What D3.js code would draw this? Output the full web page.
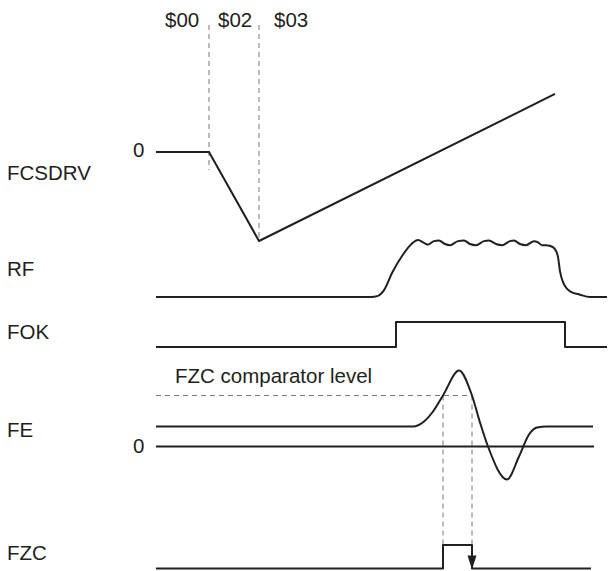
<!DOCTYPE html>
<html><head><meta charset="utf-8">
<script src="https://cdn.jsdelivr.net/npm/d3@7"></script>
<style>body{margin:0;background:#fff}text{font-family:"Liberation Sans",Arial,sans-serif;fill:#231f20}</style>
</head><body><svg id="c" width="608" height="571"></svg>
<script>
// time axis in arbitrary units (0..451)
const signalNames = ["FCSDRV","RF","FOK","FE","FZC"];
const stepLabels = ["$00","$02","$03"];
const stepTimes = [53, 103, 145];
// FCSDRV: [t, level]  (0 = reference, -1 = bottom)
const fcsdrv = [[0,0],[53,0],[103,-1],[399,0.652]];
// RF envelope: [t, level] (0 = baseline, 1 = top)
const rf = [[0,0],[215,0],[222,0.02],[228,0.12],[236,0.42],[246,0.72],[256,0.94],[262,1.0],[268,0.95],[272,0.92],[278,0.98],[283,0.99],[289,0.93],[294,0.91],[302,0.98],[308,0.99],[314,0.93],[320,0.91],[328,0.98],[333,0.99],[340,0.93],[346,0.91],[354,0.98],[358,0.99],[364,0.93],[370,0.91],[378,0.98],[382,0.96],[386,0.91],[390,0.91],[395,0.89],[399,0.84],[402,0.7],[404,0.45],[407,0.26],[414,0.1],[424,0.04],[434,0],[451,0]];
// FOK: [t, level] (0 low, 1 high)
const fok = [[0,0],[240,0],[240,1],[409,1],[409,0],[451,0]];
// FE: [t, level] (0 = zero line, 1 = rest level)
const fe = [[0,1],[257,1],[268,1.25],[277,1.75],[287,2.55],[303,3.8],[316,2.55],[324,1.2],[332,0],[351,-1.65],[363,-0.5],[373,0.6],[381,0.95],[391,1],[437,1]];
const feZero = [[0,0],[438,0]];
const comparatorLevel = 2.55;
const crossTimes = [287, 316];
// FZC: [t, level]
const fzc = [[0,0],[287,0],[287,1],[316,1],[316,0],[435,0]];

const svg = d3.select("#c");
const x = d3.scaleLinear().domain([0,451]).range([156,607]);
const yF = d3.scaleLinear().domain([-1,0]).range([241,152]);
const yRF = d3.scaleLinear().domain([0,1]).range([297,240]);
const yOK = d3.scaleLinear().domain([0,1]).range([347,322]);
const yFE = d3.scaleLinear().domain([0,1]).range([446.5,426.5]);
const yZC = d3.scaleLinear().domain([0,1]).range([568.5,545]);

const sig = (data, y, curve, w) => svg.append("path").datum(data)
  .attr("d", d3.line().x(d=>x(d[0])).y(d=>y(d[1])).curve(curve||d3.curveLinear))
  .attr("fill","none").attr("stroke","#231f20").attr("stroke-width", w||2).attr("stroke-linejoin","round");

const dash = (x1,y1,x2,y2) => svg.append("line").attr("x1",x1).attr("y1",y1).attr("x2",x2).attr("y2",y2)
  .attr("stroke","#777").attr("stroke-width",1).attr("stroke-dasharray","5,4");

const fs = 20.5;
// step dashed lines
dash(x(stepTimes[0]), 25, x(stepTimes[0]), yF(0)+18);
dash(x(stepTimes[1]), 25, x(stepTimes[1]), yF(-1));
const lblX = [165, 218, 274];
stepLabels.forEach((s,i)=> svg.append("text").attr("x",lblX[i]).attr("y",27).attr("font-size",fs).text(s));

// comparator level dashed
dash(x(0), yFE(comparatorLevel), x(crossTimes[1]), yFE(comparatorLevel));
crossTimes.forEach(t => dash(x(t), yFE(comparatorLevel), x(t), yZC(1)));
svg.append("text").attr("x",175).attr("y",383).attr("font-size",fs).text("FZC comparator level");

sig(fcsdrv, yF);
sig(rf, yRF, d3.curveMonotoneX);
sig(fok, yOK);
sig(feZero, yFE, d3.curveLinear, 2);
sig(fe, yFE, d3.curveMonotoneX);
sig(fzc, yZC);

// arrow on falling edge of FZC
const ax = x(crossTimes[1]), ay = yZC(0);
svg.append("path").attr("d",`M${ax-4.5},${ay-13} L${ax+4.5},${ay-13} L${ax},${ay+1} Z`).attr("fill","#231f20");

// left labels
const labelY = [180, 276, 339, 437, 560];
signalNames.forEach((n,i)=> svg.append("text").attr("x",7).attr("y",labelY[i]).attr("font-size",fs).text(n));
svg.append("text").attr("x",133).attr("y",157).attr("font-size",fs).text("0");
svg.append("text").attr("x",133).attr("y",453).attr("font-size",fs).text("0");
</script></body></html>
